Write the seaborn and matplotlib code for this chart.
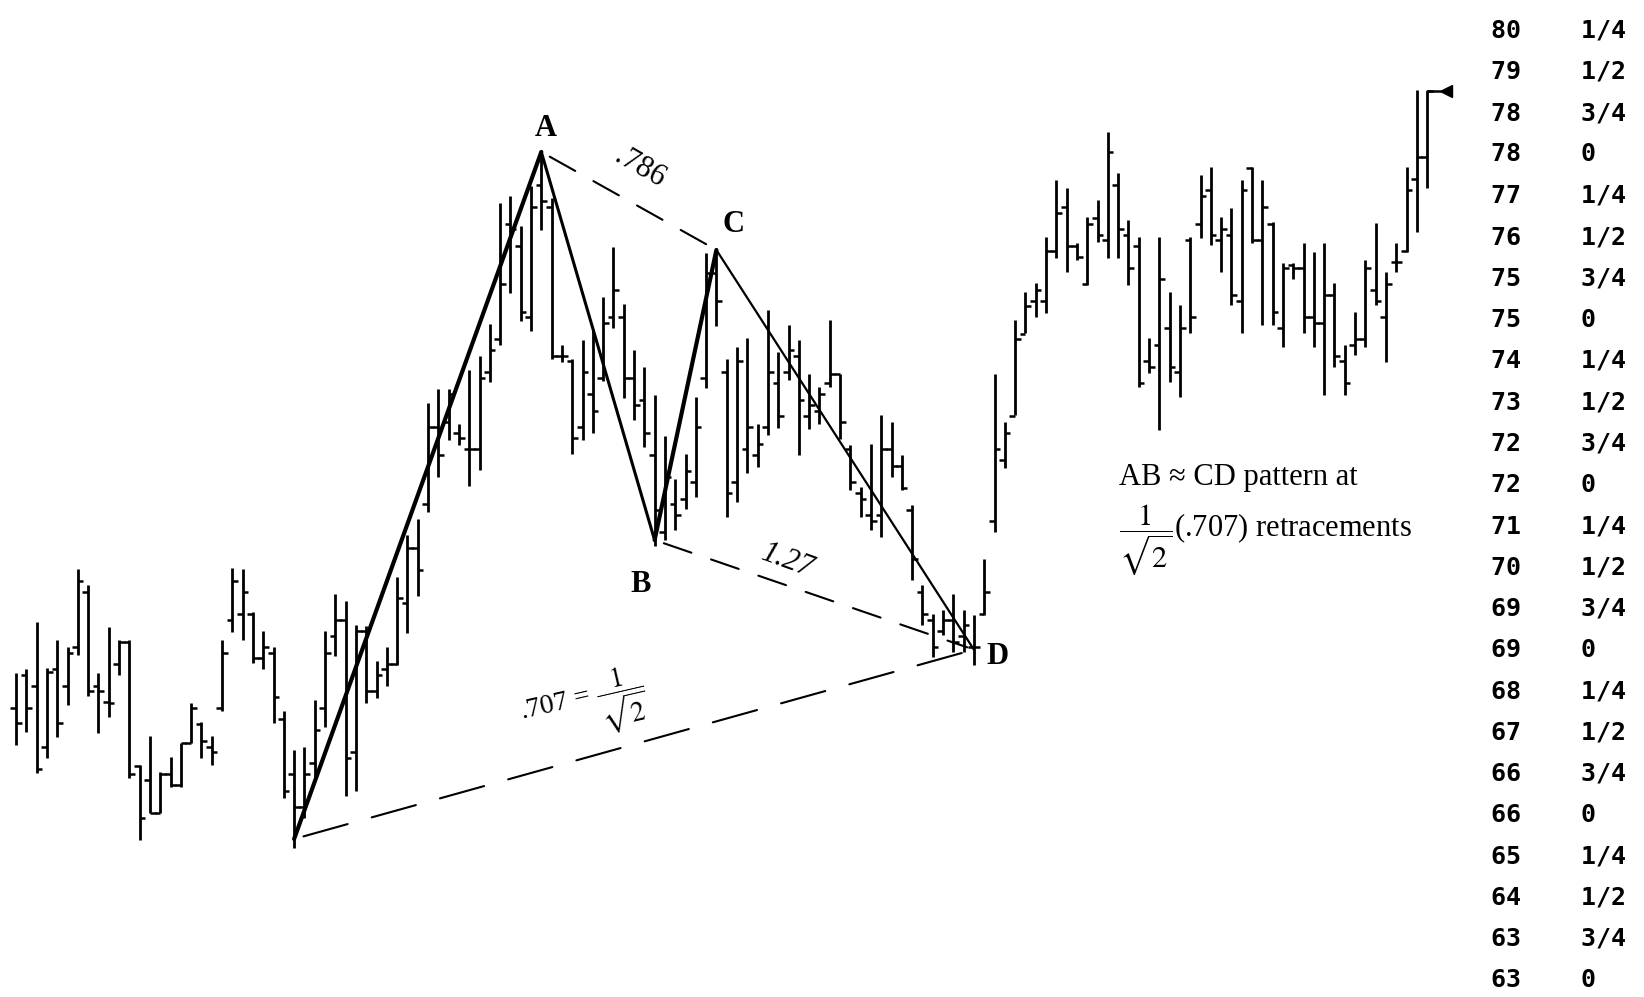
import numpy as np
import pandas as pd
import seaborn as sns
import matplotlib.pyplot as plt

# Daily bars (price units)
high = [68.54, 68.61, 69.46, 68.63, 69.14, 69.00, 70.43, 70.14, 68.54, 69.37,
        69.14, 69.14, 66.87, 67.39, 66.74, 67.01, 67.27, 67.99, 67.65, 67.39,
        69.14, 70.45, 70.43, 69.65, 69.30, 69.01, 67.85, 67.14, 67.20, 68.05,
        69.30, 69.97, 69.85, 69.40, 69.39, 68.76, 69.01, 70.28, 71.04, 71.33,
        73.44, 73.70, 73.70, 73.06, 74.04, 74.29, 74.88, 77.07, 77.20, 76.66,
        77.38, 78.00, 77.16, 74.49, 74.24, 74.59, 74.79, 75.37, 76.27, 75.24,
        74.40, 74.10, 73.59, 72.84, 72.06, 72.52, 73.55, 76.17, 76.22, 74.24,
        74.46, 74.62, 73.06, 75.13, 74.37, 74.86, 74.59, 73.97, 73.73, 74.95,
        73.97, 72.68, 71.92, 72.70, 73.22, 73.10, 72.50, 71.59, 70.13, 69.61,
        69.68, 69.97, 69.68, 69.59, 70.61, 73.97, 73.10, 74.95, 75.46, 75.62,
        76.46, 77.49, 77.35, 76.35, 76.82, 77.13, 78.36, 77.62, 76.76, 76.46,
        74.62, 76.46, 75.46, 75.22, 76.46, 77.58, 77.73, 76.82, 76.98, 77.49,
        77.73, 77.49, 76.73, 75.98, 75.98, 76.35, 76.18, 76.35, 75.62, 74.49,
        75.09, 76.04, 76.71, 75.82, 76.35, 77.73, 79.12, 79.11]
low = [67.23, 67.47, 66.72, 66.99, 67.38, 67.96, 68.87, 68.12, 67.45, 67.74,
       68.50, 66.63, 65.51, 66.00, 66.00, 66.47, 66.47, 67.27, 66.99, 66.87,
       67.85, 69.28, 69.14, 68.72, 68.61, 67.63, 66.27, 65.35, 65.90, 66.65,
       67.55, 68.84, 66.30, 66.40, 67.99, 68.08, 68.30, 68.68, 69.27, 69.94,
       71.46, 72.10, 72.77, 72.68, 71.93, 72.23, 73.82, 74.49, 75.44, 74.93,
       74.75, 76.58, 74.24, 74.19, 72.52, 72.77, 72.90, 73.84, 74.80, 73.53,
       73.13, 72.64, 70.85, 70.95, 71.14, 71.52, 71.73, 73.72, 74.84, 71.37,
       71.64, 72.17, 72.28, 72.86, 72.99, 73.86, 72.50, 72.97, 73.06, 73.73,
       72.79, 71.86, 71.37, 71.14, 71.01, 72.10, 71.86, 70.23, 69.41, 68.83,
       69.23, 68.92, 68.92, 68.68, 69.59, 71.10, 72.26, 73.22, 74.71, 75.00,
       75.08, 76.07, 75.82, 76.04, 75.58, 76.37, 76.07, 76.07, 75.58, 73.73,
       73.99, 72.95, 73.82, 73.55, 74.71, 76.44, 76.31, 75.82, 75.22, 74.71,
       76.35, 74.86, 74.86, 74.46, 75.70, 74.71, 74.46, 73.59, 74.10, 73.59,
       74.31, 74.46, 75.22, 74.19, 75.82, 76.18, 76.55, 77.35]
open_ = [67.90, 68.50, 68.30, 67.20, 68.60, 68.30, 69.00, 70.00, 68.30, 68.00,
         68.70, 69.10, 66.85, 66.60, 66.00, 66.70, 66.50, 67.27, 67.60, 67.20,
         67.90, 69.50, 69.60, 69.60, 68.80, 68.90, 67.70, 66.70, 66.10, 66.90,
         67.90, 69.20, 69.50, 67.10, 69.30, 68.20, 68.60, 68.70, 69.80, 70.80,
         71.60, 73.00, 73.10, 72.90, 72.60, 72.60, 74.00, 74.60, 76.70, 76.30,
         75.00, 77.40, 77.00, 74.30, 74.20, 73.00, 73.60, 73.90, 75.00, 75.00,
         73.90, 73.50, 72.50, 71.10, 71.60, 71.70, 72.00, 73.90, 75.80, 74.00,
         72.00, 72.60, 72.50, 73.00, 73.80, 74.00, 74.30, 73.20, 73.30, 73.80,
         73.97, 72.60, 71.80, 71.40, 71.40, 72.60, 72.30, 71.50, 70.00, 69.50,
         69.30, 69.50, 69.20, 69.00, 69.60, 71.30, 72.40, 73.20, 74.70, 75.30,
         75.30, 76.20, 77.00, 76.30, 75.60, 76.80, 76.40, 77.40, 76.50, 76.30,
         74.20, 74.50, 74.80, 74.00, 76.40, 76.70, 77.30, 76.40, 76.50, 75.30,
         77.70, 76.40, 76.70, 74.80, 75.95, 75.90, 75.00, 74.90, 75.40, 74.20,
         74.50, 74.60, 75.50, 75.00, 76.00, 76.20, 77.50, 77.90]
close = [67.63, 67.90, 66.80, 68.55, 67.63, 68.90, 70.20, 68.20, 68.20, 67.99,
         69.10, 66.70, 65.90, 66.00, 66.70, 66.50, 67.27, 67.90, 67.30, 67.10,
         68.90, 70.20, 70.00, 68.80, 69.00, 68.10, 66.40, 66.10, 66.70, 67.50,
         68.90, 69.50, 67.00, 69.30, 68.20, 68.50, 68.70, 69.90, 70.80, 70.40,
         73.00, 72.50, 73.60, 72.80, 72.60, 73.90, 74.40, 75.60, 76.60, 75.10,
         77.00, 77.10, 74.30, 74.30, 72.80, 74.00, 73.30, 74.90, 75.50, 73.90,
         73.40, 72.90, 71.50, 72.10, 71.40, 72.20, 73.00, 75.80, 75.30, 71.80,
         74.20, 73.00, 72.70, 74.00, 73.20, 74.40, 73.50, 73.40, 73.60, 73.97,
         73.10, 72.00, 71.70, 71.30, 72.60, 72.30, 71.90, 70.60, 69.60, 69.00,
         69.50, 69.10, 69.40, 69.00, 70.00, 72.60, 72.90, 74.60, 75.20, 75.50,
         76.20, 76.90, 76.30, 76.10, 76.70, 76.50, 78.00, 76.60, 75.90, 73.80,
         74.10, 75.70, 74.10, 74.80, 75.00, 77.20, 76.50, 76.60, 75.40, 77.30,
         76.40, 77.00, 75.10, 75.90, 75.90, 75.00, 74.90, 75.40, 74.30, 73.80,
         74.60, 75.90, 75.30, 75.60, 76.00, 77.30, 77.90, 79.10]
day = list(range(len(high)))

# XABCD turning points
pt_name = ['X', 'A', 'B', 'C', 'D']
pt_day = [27, 51, 62, 68, 93]
pt_price = [65.52, 78.00, 70.95, 76.22, 68.96]

# right hand price scale
tick_whole = [80, 79, 78, 78, 77, 76, 75, 75, 74, 73, 72, 72,
              71, 70, 69, 69, 68, 67, 66, 66, 65, 64, 63, 63]
tick_frac = ['1/4', '1/2', '3/4', '0', '1/4', '1/2', '3/4', '0',
             '1/4', '1/2', '3/4', '0', '1/4', '1/2', '3/4', '0',
             '1/4', '1/2', '3/4', '0', '1/4', '1/2', '3/4', '0']
frac_val = {'0': 0.0, '1/4': 0.25, '1/2': 0.5, '3/4': 0.75}

sns.set_theme(style='white')
plt.rcParams['font.family'] = ['Liberation Serif', 'DejaVu Serif']
plt.rcParams['mathtext.fontset'] = 'stix'
plt.rcParams['text.color'] = 'black'
plt.rcParams['ytick.color'] = 'black'

fig = plt.figure(figsize=(16.44, 9.97), dpi=100)
ax = fig.add_axes([0, 0, 1470 / 1644, 1])

# OHLC bars
ax.vlines(day, low, high, color='black', lw=2.0)
ax.hlines(open_, np.array(day) - 0.55, day, color='black', lw=1.8)
ax.hlines(close, day, np.array(day) + 0.55, color='black', lw=1.8)

# arrow marker on the last close
ax.plot([day[-1], day[-1] + 1.3], [close[-1], close[-1]], color='black', lw=1.8)
ax.plot(day[-1] + 1.8, close[-1], marker='<', color='black', ms=9)

# XABCD legs
pts = pd.DataFrame({'day': pt_day, 'price': pt_price, 'name': pt_name})
seg_lw = [3.0, 2.2, 3.0, 1.6]
for i in range(4):
    seg = pts.iloc[i:i + 2]
    sns.lineplot(data=seg, x='day', y='price', ax=ax, color='black',
                 lw=seg_lw[i], sort=False, estimator=None)

# dashed ratio lines
def ratio_line(i, j, dash):
    ax.annotate('', xy=(pt_day[j], pt_price[j]), xytext=(pt_day[i], pt_price[i]),
                arrowprops=dict(arrowstyle='-', lw=1.5, ls=(0, dash), color='black',
                                shrinkA=7, shrinkB=5))

ratio_line(1, 3, (14, 10))
ratio_line(2, 4, (14, 10))
ratio_line(0, 4, (22, 12))

def mid(i, j):
    return ((pt_day[i] + pt_day[j]) / 2, (pt_price[i] + pt_price[j]) / 2)

ax.annotate('.786', mid(1, 3), xytext=(8, 24), textcoords='offset points',
            ha='center', va='center', rotation=-30, fontsize=22)
ax.annotate('1.27', mid(2, 4), xytext=(-19, 24), textcoords='offset points',
            ha='center', va='center', rotation=-20, fontsize=22, style='italic')
ax.annotate(r'.707 = $\dfrac{1}{\sqrt{2}}$', mid(0, 4), xytext=(-36, 27),
            textcoords='offset points', ha='center', va='center', rotation=13,
            fontsize=20)

# point letters
letter_off = {'A': (3, 17), 'B': (-10, -32), 'C': (12, 18), 'D': (17, -5)}
for name, d, p in zip(pt_name, pt_day, pt_price):
    if name in letter_off:
        ax.annotate(name, (d, p), xytext=letter_off[name], textcoords='offset points',
                    ha='center', va='center', fontsize=22, fontweight='bold')

ax.text(107.1, 72.08, 'AB ≈ CD pattern at', fontsize=22, ha='left', va='center')
ax.text(107.1, 70.95, r'$\dfrac{1}{\sqrt{2}}$(.707) retracements', fontsize=22,
        ha='left', va='center')

# axes
ax.set_xlim(-16 / 10.3, (1470 - 16) / 10.3)
ax.set_ylim(62.65, 80.76)
ax.set_xticks([])
ticks = [w + frac_val[f] for w, f in zip(tick_whole, tick_frac)]
ax.yaxis.tick_right()
ax.set_yticks(ticks)
ax.set_yticklabels([f'{w}    {f}' for w, f in zip(tick_whole, tick_frac)],
                   fontfamily='DejaVu Sans Mono', fontweight='bold', fontsize=18)
ax.tick_params(axis='y', length=0, pad=15)
ax.set_xlabel('')
ax.set_ylabel('')
for s in ax.spines.values():
    s.set_visible(False)

fig.savefig('out.png', dpi=100, facecolor='white')
